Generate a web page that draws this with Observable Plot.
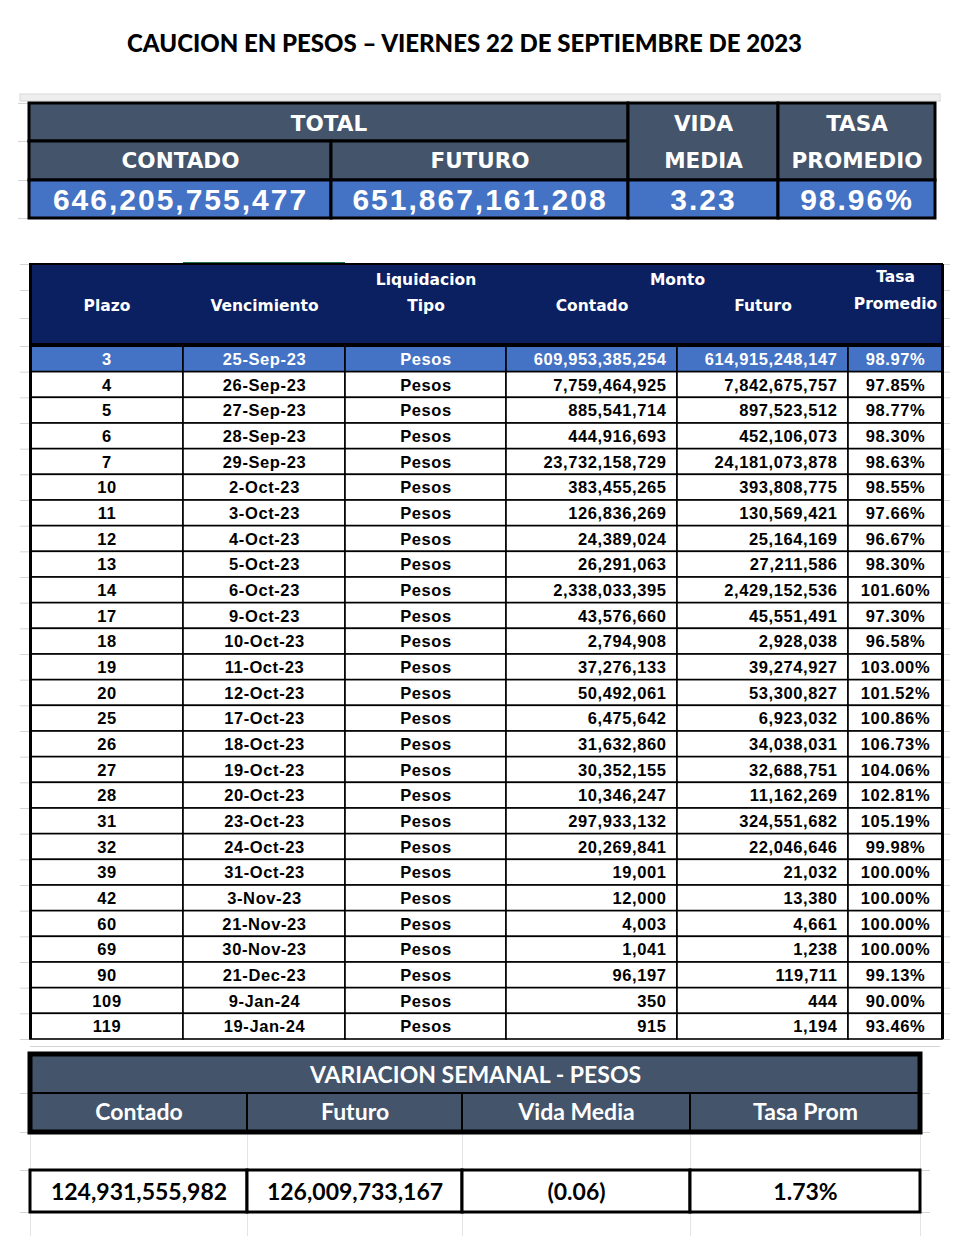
<!DOCTYPE html>
<html><head><meta charset="utf-8">
<script src="https://cdn.jsdelivr.net/npm/d3@7"></script>
<script src="https://cdn.jsdelivr.net/npm/@observablehq/plot@0.6"></script>
<style>
body{margin:0;background:#fff}
#chart svg{display:block;background:#fff}
.bigval text{letter-spacing:2px}
.cellv text{letter-spacing:0.6px}
</style></head><body><div id="chart"></div>
<script>
// ---------------- DATA ----------------
const title = "CAUCION EN PESOS – VIERNES 22 DE SEPTIEMBRE DE 2023";

const totalGroup = "TOTAL";
const totalSub = ["CONTADO", "FUTURO"];
const vidaLabel = ["VIDA", "MEDIA"];
const tasaLabel = ["TASA", "PROMEDIO"];
const totalContado = 646205755477;
const totalFuturo = 651867161208;
const totalVidaMedia = 3.23;
const totalTasa = 98.96;

const plazo = [3,4,5,6,7,10,11,12,13,14,17,18,19,20,25,26,27,28,31,32,39,42,60,69,90,109,119];
const vencimiento = ["25-Sep-23","26-Sep-23","27-Sep-23","28-Sep-23","29-Sep-23","2-Oct-23","3-Oct-23","4-Oct-23","5-Oct-23","6-Oct-23","9-Oct-23","10-Oct-23","11-Oct-23","12-Oct-23","17-Oct-23","18-Oct-23","19-Oct-23","20-Oct-23","23-Oct-23","24-Oct-23","31-Oct-23","3-Nov-23","21-Nov-23","30-Nov-23","21-Dec-23","9-Jan-24","19-Jan-24"];
const tipo = "Pesos";
const montoContado = [609953385254,7759464925,885541714,444916693,23732158729,383455265,126836269,24389024,26291063,2338033395,43576660,2794908,37276133,50492061,6475642,31632860,30352155,10346247,297933132,20269841,19001,12000,4003,1041,96197,350,915];
const montoFuturo = [614915248147,7842675757,897523512,452106073,24181073878,393808775,130569421,25164169,27211586,2429152536,45551491,2928038,39274927,53300827,6923032,34038031,32688751,11162269,324551682,22046646,21032,13380,4661,1238,119711,444,1194];
const tasaPromedio = [98.97,97.85,98.77,98.30,98.63,98.55,97.66,96.67,98.30,101.60,97.30,96.58,103.00,101.52,100.86,106.73,104.06,102.81,105.19,99.98,100.00,100.00,100.00,100.00,99.13,90.00,93.46];

const varTitle = "VARIACION SEMANAL - PESOS";
const varHeaders = ["Contado", "Futuro", "Vida Media", "Tasa Prom"];
const varContado = 124931555982;
const varFuturo = 126009733167;
const varVidaMedia = -0.06;
const varTasa = 1.73;

// ---------------- LAYOUT ----------------
const W = 980, H = 1244;
const topCols = [29, 331, 628, 778, 935];
const topRows = [103, 141, 180, 218];
const mainCols = [30, 183, 345, 506, 677, 848, 942];
const mainHead = [264, 344];
const mainTop = 346, mainBottom = 1039;
const rowH = (mainBottom - mainTop) / plazo.length;
const botCols = [30, 247, 462, 690, 920];
const botRows = [1054, 1093, 1132, 1170, 1212];

const C = {slate: "#44546a", blue: "#4472c4", navy: "#0a2060", grid: "#d4d4d4"};
const mid = (a, b) => (a + b) / 2;
const fmtInt = d3.format(",");
const fmtPct = v => v.toFixed(2) + "%";
const fmtParen = v => v < 0 ? "(" + Math.abs(v).toFixed(2) + ")" : v.toFixed(2);

// ---------- top table ----------
const topRects = [
  {x1: topCols[0], x2: topCols[2], y1: topRows[0], y2: topRows[1], fill: C.slate},
  {x1: topCols[0], x2: topCols[1], y1: topRows[1], y2: topRows[2], fill: C.slate},
  {x1: topCols[1], x2: topCols[2], y1: topRows[1], y2: topRows[2], fill: C.slate},
  {x1: topCols[2], x2: topCols[3], y1: topRows[0], y2: topRows[2], fill: C.slate},
  {x1: topCols[3], x2: topCols[4], y1: topRows[0], y2: topRows[2], fill: C.slate},
  ...[0,1,2,3].map(i => ({x1: topCols[i], x2: topCols[i+1], y1: topRows[2], y2: topRows[3], fill: C.blue}))
];
const topHeadText = [
  {x: mid(topCols[0], topCols[2]), y: mid(topRows[0], topRows[1]) + 2, t: totalGroup},
  {x: mid(topCols[0], topCols[1]), y: mid(topRows[1], topRows[2]), t: totalSub[0]},
  {x: mid(topCols[1], topCols[2]), y: mid(topRows[1], topRows[2]), t: totalSub[1]},
  {x: mid(topCols[2], topCols[3]), y: mid(topRows[0], topRows[1]) + 2, t: vidaLabel[0]},
  {x: mid(topCols[2], topCols[3]), y: mid(topRows[1], topRows[2]), t: vidaLabel[1]},
  {x: mid(topCols[3], topCols[4]), y: mid(topRows[0], topRows[1]) + 2, t: tasaLabel[0]},
  {x: mid(topCols[3], topCols[4]), y: mid(topRows[1], topRows[2]), t: tasaLabel[1]}
];
const topVals = [fmtInt(totalContado), fmtInt(totalFuturo), totalVidaMedia.toFixed(2), fmtPct(totalTasa)]
  .map((t, i) => ({x: mid(topCols[i], topCols[i+1]), y: mid(topRows[2], topRows[3]) + 1, t}));

// ---------- main table ----------
const rows = plazo.map((p, i) => ({
  i, y1: mainTop + i * rowH, y2: mainTop + (i + 1) * rowH,
  cells: [String(p), vencimiento[i], tipo, fmtInt(montoContado[i]), fmtInt(montoFuturo[i]), fmtPct(tasaPromedio[i])]
}));
const rightAligned = [false, false, false, true, true, false];
const mainCells = rows.flatMap(r => r.cells.map((t, c) => ({
  x1: mainCols[c], x2: mainCols[c+1], y1: r.y1, y2: r.y2,
  fill: r.i === 0 ? C.blue : "#ffffff", color: r.i === 0 ? "#ffffff" : "#000000",
  t, c, y: mid(r.y1, r.y2) + 0.5,
  x: rightAligned[c] ? mainCols[c+1] - 11 : mid(mainCols[c], mainCols[c+1])
})));
const mainTextCenter = mainCells.filter(d => !rightAligned[d.c]);
const mainTextRight = mainCells.filter(d => rightAligned[d.c]);
const mainHeadText = [
  {x: mid(mainCols[0], mainCols[1]), y: 306, t: "Plazo"},
  {x: mid(mainCols[1], mainCols[2]), y: 306, t: "Vencimiento"},
  {x: mid(mainCols[2], mainCols[3]), y: 280, t: "Liquidacion"},
  {x: mid(mainCols[2], mainCols[3]), y: 306, t: "Tipo"},
  {x: mainCols[4], y: 280, t: "Monto"},
  {x: mid(mainCols[3], mainCols[4]), y: 306, t: "Contado"},
  {x: mid(mainCols[4], mainCols[5]), y: 306, t: "Futuro"},
  {x: mid(mainCols[5], mainCols[6]), y: 277, t: "Tasa"},
  {x: mid(mainCols[5], mainCols[6]), y: 304, t: "Promedio"}
];

// ---------- bottom table ----------
const botRects = [
  {x1: botCols[0], x2: botCols[4], y1: botRows[0], y2: botRows[1]},
  ...[0,1,2,3].map(i => ({x1: botCols[i], x2: botCols[i+1], y1: botRows[1], y2: botRows[2]}))
];
const botHeadText = [
  {x: mid(botCols[0], botCols[4]), y: mid(botRows[0], botRows[1]) + 2, t: varTitle},
  ...varHeaders.map((t, i) => ({x: mid(botCols[i], botCols[i+1]), y: mid(botRows[1], botRows[2]), t}))
];
const botValRects = [0,1,2,3].map(i => ({x1: botCols[i], x2: botCols[i+1], y1: botRows[3], y2: botRows[4]}));
const botVals = [fmtInt(varContado), fmtInt(varFuturo), fmtParen(varVidaMedia), fmtPct(varTasa)]
  .map((t, i) => ({x: mid(botCols[i], botCols[i+1]), y: mid(botRows[3], botRows[4]) + 1, t}));

// faint spreadsheet grid remnants
const gridH = [
  ...topRows.map(y => ({x1: 18, x2: topCols[0], y})),
  ...d3.range(plazo.length + 1).map(i => ({x1: 20, x2: mainCols[0], y: mainTop + i * rowH})),
  ...d3.range(plazo.length + 1).map(i => ({x1: mainCols[6], x2: 950, y: mainTop + i * rowH})),
  ...[mainHead[0], 290, 318].map(y => ({x1: 20, x2: mainCols[0], y})),
  ...[mainHead[0], 290, 318].map(y => ({x1: mainCols[6], x2: 950, y})),
  {x1: 30, x2: 940, y: 1046},
  ...[1093, 1132, 1170, 1212].map(y => ({x1: 20, x2: 30, y})),
  ...[1093, 1132, 1170, 1212].map(y => ({x1: 920, x2: 930, y}))
];
const gridV = [
  ...botCols.map(x => ({x, y1: 1132, y2: 1170})),
  ...botCols.map(x => ({x, y1: 1212, y2: 1236}))
];

const fontArial = "'Liberation Sans', Arial, sans-serif";
const fontVerd = "'DejaVu Sans', Verdana, sans-serif";
const fontCal = "Lato, Calibri, sans-serif";

const chart = Plot.plot({
  width: W, height: H, margin: 0,
  x: {domain: [0, W], range: [0, W], axis: null},
  y: {domain: [0, H], range: [0, H], axis: null},
  color: {type: "identity"},
  marks: [
    // title
    Plot.text([title], {x: () => 464, y: () => 44, text: d => d, fontFamily: fontCal, fontWeight: 900, fontSize: 24, fill: "#000"}),
    // spreadsheet header bar above the totals
    Plot.rect([{x1: 20, x2: 940, y1: 94, y2: 101}], {x1: "x1", x2: "x2", y1: "y1", y2: "y2", fill: "#eeeeee", stroke: "#d8d8d8", strokeWidth: 1}),
    Plot.ruleY(gridH, {x1: "x1", x2: "x2", y: "y", stroke: C.grid, strokeWidth: 1}),
    Plot.ruleX(gridV, {x: "x", y1: "y1", y2: "y2", stroke: "#e4e4e4", strokeWidth: 1}),
    // top table
    Plot.rect(topRects, {x1: "x1", x2: "x2", y1: "y1", y2: "y2", fill: "fill", stroke: "#000", strokeWidth: 3}),
    Plot.text(topHeadText, {x: "x", y: "y", text: "t", fill: "#fff", fontFamily: fontVerd, fontWeight: "bold", fontSize: 21.5}),
    Plot.text(topVals, {x: "x", y: "y", text: "t", fill: "#fff", fontFamily: fontArial, fontWeight: "bold", fontSize: 30, className: "bigval"}),
    // main table header
    Plot.ruleY([{x1: mainCols[1], x2: mainCols[2], y: mainHead[0] - 1.5}], {x1: "x1", x2: "x2", y: "y", stroke: "#217346", strokeWidth: 2}),
    Plot.rect([{x1: mainCols[0], x2: mainCols[6], y1: mainHead[0], y2: mainHead[1]}], {x1: "x1", x2: "x2", y1: "y1", y2: "y2", fill: C.navy, stroke: "#000", strokeWidth: 2}),
    Plot.text(mainHeadText, {x: "x", y: "y", text: "t", fill: "#fff", fontFamily: fontVerd, fontWeight: "bold", fontSize: 15.5}),
    // main body cells
    Plot.rect(mainCells, {x1: "x1", x2: "x2", y1: "y1", y2: "y2", fill: "fill", stroke: "#000", strokeWidth: 1.6}),
    Plot.ruleY([mainHead[1] + 1], {x1: mainCols[0], x2: mainCols[6], stroke: "#000", strokeWidth: 3}),
    Plot.ruleX([mainCols[0], mainCols[6]], {y1: mainHead[0], y2: mainBottom, stroke: "#000", strokeWidth: 3}),
    Plot.text(mainTextCenter, {x: "x", y: "y", text: "t", fill: "color", textAnchor: "middle", fontFamily: fontArial, fontWeight: "bold", fontSize: 16.5, className: "cellv"}),
    Plot.text(mainTextRight, {x: "x", y: "y", text: "t", fill: "color", textAnchor: "end", fontFamily: fontArial, fontWeight: "bold", fontSize: 16.5, className: "cellv"}),
    // bottom table
    Plot.rect(botRects, {x1: "x1", x2: "x2", y1: "y1", y2: "y2", fill: C.slate, stroke: "#000", strokeWidth: 2}),
    Plot.rect([{x1: botCols[0], x2: botCols[4], y1: botRows[0], y2: botRows[2]}], {x1: "x1", x2: "x2", y1: "y1", y2: "y2", fill: "none", stroke: "#000", strokeWidth: 5}),
    Plot.text(botHeadText, {x: "x", y: "y", text: "t", fill: "#fff", fontFamily: fontCal, fontWeight: "bold", fontSize: 23}),
    Plot.rect(botValRects, {x1: "x1", x2: "x2", y1: "y1", y2: "y2", fill: "#fff", stroke: "#000", strokeWidth: 3}),
    Plot.text(botVals, {x: "x", y: "y", text: "t", fill: "#000", fontFamily: fontCal, fontWeight: "bold", fontSize: 23})
  ]
});
document.getElementById("chart").appendChild(chart);
</script></body></html>
